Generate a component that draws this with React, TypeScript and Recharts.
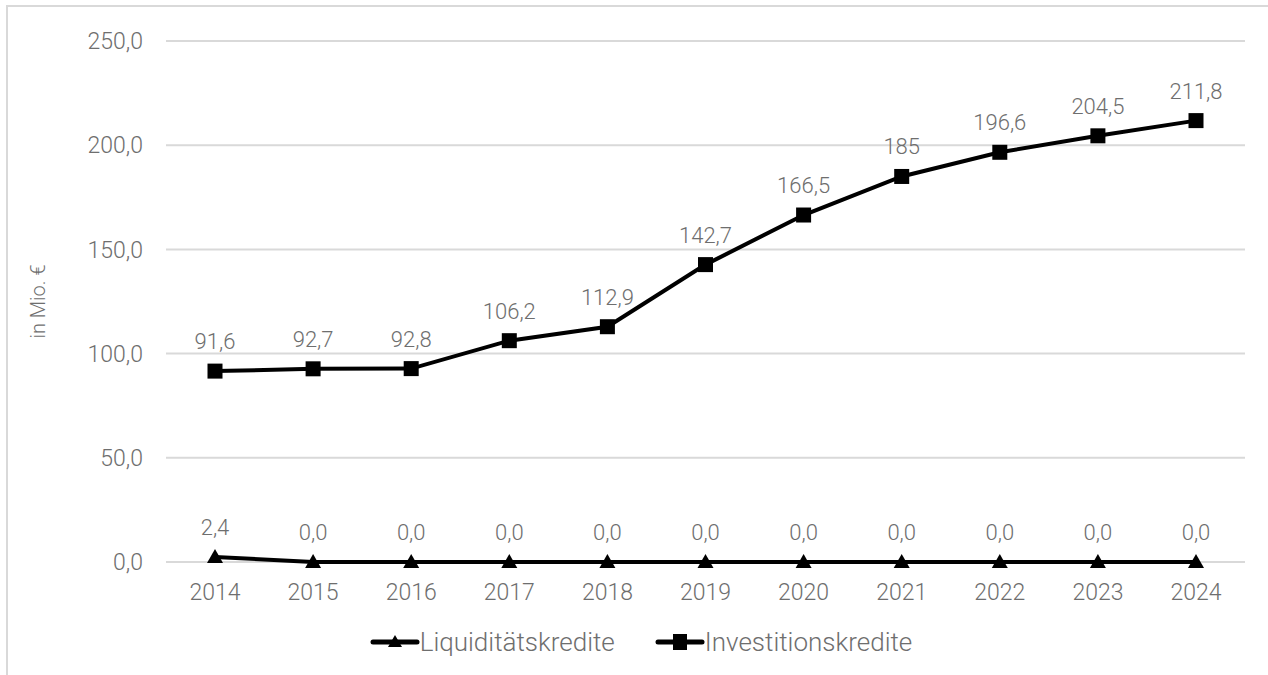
import React from "react";
import { LineChart, Line, XAxis, YAxis, CartesianGrid, LabelList, Legend } from "recharts";

const years = ["2014", "2015", "2016", "2017", "2018", "2019", "2020", "2021", "2022", "2023", "2024"];
const liquiditaet = [2.4, 0, 0, 0, 0, 0, 0, 0, 0, 0, 0];
const investition = [91.6, 92.7, 92.8, 106.2, 112.9, 142.7, 166.5, 185, 196.6, 204.5, 211.8];
const investitionLabels = ["91,6", "92,7", "92,8", "106,2", "112,9", "142,7", "166,5", "185", "196,6", "204,5", "211,8"];
const yTicks = [0, 50, 100, 150, 200, 250];

const data = years.map((year, i) => ({
  year,
  liq: liquiditaet[i],
  inv: investition[i],
  invLabel: investitionLabels[i],
}));

const FONT = "Roboto, 'Noto Sans', sans-serif";
const TEXT = "#6e6e6e";
const GRID = "#d9d9d9";

const fmt = (v: number) => v.toFixed(1).replace(".", ",");

function SquareDot(props: any) {
  const { cx, cy } = props;
  if (cx == null || cy == null) return null;
  return <rect x={cx - 7.5} y={cy - 7.5} width={15} height={15} fill="#000" />;
}

function TriangleDot(props: any) {
  const { cx, cy } = props;
  if (cx == null || cy == null) return null;
  return <path d={`M${cx},${cy - 8} L${cx + 8},${cy + 6} L${cx - 8},${cy + 6} Z`} fill="#000" />;
}

function LegendContent() {
  const items = [
    { name: "Liquiditätskredite", shape: "triangle" },
    { name: "Investitionskredite", shape: "square" },
  ];
  return (
    <div style={{ display: "flex", justifyContent: "center", paddingLeft: 37, gap: 40, fontFamily: FONT, fontWeight: 300, fontSize: 26, color: TEXT }}>
      {items.map((it) => (
        <div key={it.name} style={{ display: "flex", alignItems: "center" }}>
          <svg width={50} height={24}>
            <line x1={3} y1={12} x2={47} y2={12} stroke="#000" strokeWidth={5} strokeLinecap="round" />
            {it.shape === "square" ? (
              <rect x={18} y={4} width={14} height={16} fill="#000" />
            ) : (
              <path d="M25,5 L32,17 L18,17 Z" fill="#000" />
            )}
          </svg>
          <span>{it.name}</span>
        </div>
      ))}
    </div>
  );
}

export default function App() {
  return (
    <div style={{ position: "absolute", left: 0, top: 0, width: 1268, height: 675, background: "#fff", overflow: "hidden" }}>
      <div style={{ position: "absolute", left: 6, top: 5, width: 1300, height: 700, border: `2px solid ${GRID}`, boxSizing: "border-box" }} />
      <LineChart width={1268} height={675} data={data} margin={{ top: 41, right: 23, left: 0, bottom: 33 }}>
        <CartesianGrid vertical={false} stroke={GRID} strokeWidth={2} />
        <XAxis
          dataKey="year"
          height={50}
          padding={{ left: 49, right: 49 }}
          axisLine={false}
          tickLine={false}
          tickSize={0}
          tickMargin={22}
          tick={{ fill: TEXT, fontSize: 23, fontWeight: 300, fontFamily: FONT }}
        />
        <YAxis
          width={166}
          domain={[0, 250]}
          ticks={yTicks}
          tickFormatter={fmt}
          axisLine={false}
          tickLine={false}
          tickSize={0}
          tickMargin={23}
          tick={{ fill: TEXT, fontSize: 23, fontWeight: 300, fontFamily: FONT }}
          label={{ value: "in Mio. €", angle: -90, position: "center", dx: -45, fill: TEXT, fontSize: 20, fontWeight: 300, fontFamily: FONT }}
        />
        <Legend verticalAlign="bottom" height={30} wrapperStyle={{ bottom: 18 }} content={<LegendContent />} />
        <Line
          dataKey="liq"
          name="Liquiditätskredite"
          stroke="#000"
          strokeWidth={4}
          dot={<TriangleDot />}
          activeDot={false}
          isAnimationActive={false}
        >
          <LabelList dataKey="liq" position="top" offset={22} formatter={(v: any) => fmt(Number(v))} fill={TEXT} fontSize={22} fontWeight={300} fontFamily={FONT} />
        </Line>
        <Line
          dataKey="inv"
          name="Investitionskredite"
          stroke="#000"
          strokeWidth={4}
          dot={<SquareDot />}
          activeDot={false}
          isAnimationActive={false}
        >
          <LabelList dataKey="invLabel" position="top" offset={22} fill={TEXT} fontSize={22} fontWeight={300} fontFamily={FONT} />
        </Line>
      </LineChart>
    </div>
  );
}
